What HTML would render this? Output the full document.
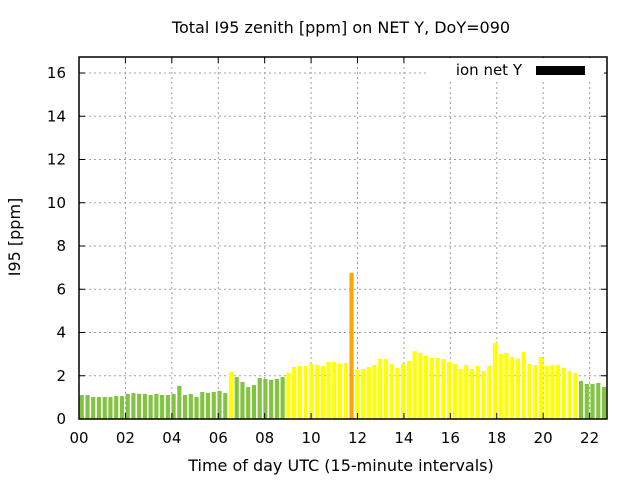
<!DOCTYPE html>
<html><head><meta charset="utf-8"><style>
body{margin:0;background:#fff}
svg text{font-family:"DejaVu Sans","Liberation Sans",sans-serif;fill:#000}
</style></head><body>
<svg id="chart" width="640" height="480" xmlns="http://www.w3.org/2000/svg">
<text x="341" y="33" font-size="16" text-anchor="middle">Total I95 zenith [ppm] on NET Y, DoY=090</text>
<text x="341" y="471" font-size="16" text-anchor="middle">Time of day UTC (15-minute intervals)</text>
<text x="0" y="0" font-size="16" text-anchor="middle" transform="translate(20,237) rotate(-90)">I95 [ppm]</text>
<g id="grid"></g>
<g id="bars"></g>
<g id="axes"></g>
<g>
<rect x="428" y="58" width="176" height="22" fill="#fff"/>
<text x="522" y="75" font-size="15" text-anchor="end">ion net Y</text>
<rect x="536" y="66" width="49" height="9" fill="#000"/>
</g>
</svg>
<script>
const values = [1.11,1.11,1.02,1.02,1.02,1.02,1.06,1.06,1.16,1.20,1.16,1.16,1.11,1.16,1.11,1.11,1.16,1.53,1.11,1.16,1.02,1.25,1.20,1.25,1.30,1.20,2.18,1.94,1.71,1.48,1.57,1.90,1.85,1.81,1.85,1.94,2.13,2.41,2.45,2.45,2.55,2.50,2.45,2.64,2.64,2.55,2.59,6.76,2.27,2.31,2.41,2.50,2.78,2.78,2.55,2.36,2.55,2.69,3.15,3.06,2.92,2.82,2.82,2.78,2.64,2.55,2.31,2.50,2.31,2.45,2.22,2.45,3.52,3.01,3.06,2.87,2.78,3.10,2.55,2.50,2.87,2.45,2.50,2.50,2.36,2.22,2.13,1.76,1.62,1.62,1.67,1.48];
const colors = [];
for(let i=0;i<values.length;i++){colors.push(i==26||(i>=36&&i<=86)?'#ffff00':'#82c341');}
colors[47]='#ffa500';
const xTicks = ['00','02','04','06','08','10','12','14','16','18','20','22'];
const yTicks = [0,2,4,6,8,10,12,14,16];
const L=79,R=607,T=57,B=419,XMAX=22.75,YMAX=16.74;
const sx=h=>L+h*(R-L)/XMAX, sy=v=>B-v*(B-T)/YMAX;
const STEP=XMAX/values.length;
const NS='http://www.w3.org/2000/svg';
function mk(t,a,p){const e=document.createElementNS(NS,t);for(const k in a)e.setAttribute(k,a[k]);p.appendChild(e);return e;}
const grid=document.getElementById('grid'),bars=document.getElementById('bars'),axes=document.getElementById('axes');
xTicks.forEach((t,i)=>{const x=sx(i*2);
 const g=mk('line',{x1:x,x2:x,y1:T,y2:B,stroke:'#a0a0a0','stroke-dasharray':'2,3'},grid);
 
 
 mk('line',{x1:x,x2:x,y1:B,y2:B-6,stroke:'#000'},axes);
 mk('line',{x1:x,x2:x,y1:T,y2:T+6,stroke:'#000'},axes);
 const tx=mk('text',{x:x,y:443,'font-size':15,'text-anchor':'middle'},axes);tx.textContent=t;
 
 
});
yTicks.forEach(v=>{const y=sy(v);
 if(v>0){const g=mk('line',{x1:L,x2:R,y1:y,y2:y,stroke:'#a0a0a0','stroke-dasharray':'2,3'},grid);
 
 }
 mk('line',{x1:L,x2:L+6,y1:y,y2:y,stroke:'#000'},axes);
 mk('line',{x1:R,x2:R-6,y1:y,y2:y,stroke:'#000'},axes);
 const tx=mk('text',{x:66,y:y+5,'font-size':15,'text-anchor':'end'},axes);tx.textContent=v;
 
 
});
const cp=mk('clipPath',{id:'cp'},bars);mk('rect',{x:L,y:T,width:R-L,height:B-T},cp);
bars.setAttribute('clip-path','url(#cp)');
values.forEach((v,i)=>{const x0=sx(i*STEP)+0.7,x1=sx((i+1)*STEP)-0.9;
 const r=mk('rect',{x:x0,y:sy(v),width:x1-x0,height:B-sy(v),fill:colors[i]},bars);
 
 
});
mk('rect',{x:L,y:T,width:R-L,height:B-T,fill:'none',stroke:'#000','stroke-width':1.5},axes);
</script>
</body></html>
